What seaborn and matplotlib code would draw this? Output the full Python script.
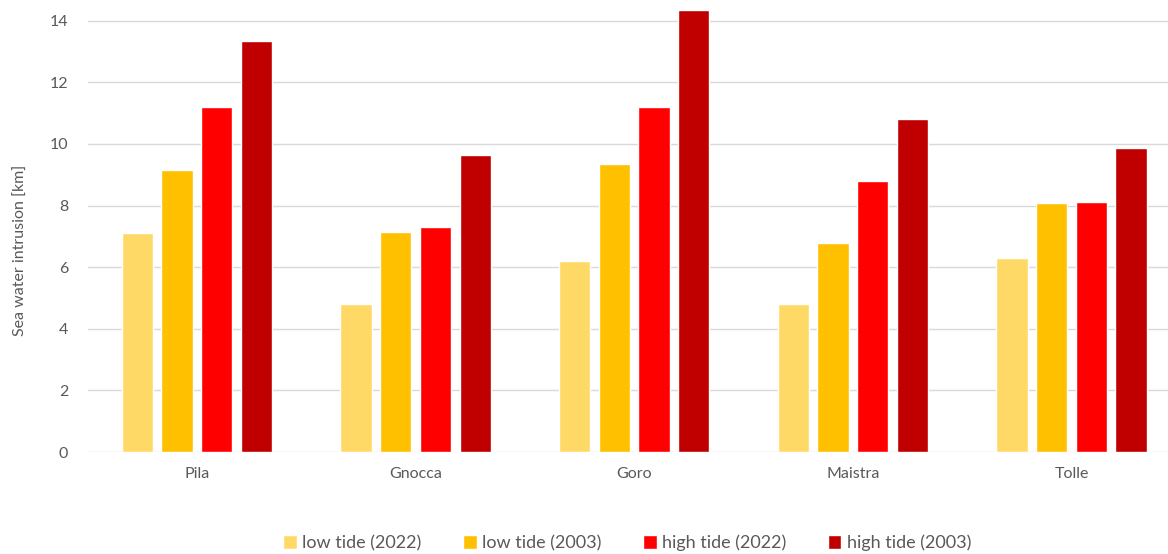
import matplotlib
matplotlib.use("Agg")
import matplotlib.pyplot as plt
import seaborn as sns
import pandas as pd

# Sea water intrusion by river branch, low/high tide in 2022 and 2003
branches = ["Pila", "Gnocca", "Goro", "Maistra", "Tolle"]
series = ["low tide (2022)", "low tide (2003)", "high tide (2022)", "high tide (2003)"]
low_2022 = [7.1, 4.8, 6.2, 4.8, 6.3]
low_2003 = [9.15, 7.15, 9.35, 6.8, 8.07]
high_2022 = [11.2, 7.3, 11.2, 8.8, 8.1]
high_2003 = [13.35, 9.65, 14.35, 10.8, 9.86]
colors = ["#FFD966", "#FFC000", "#FF0000", "#C00000"]

rows = []
for name, vals in zip(series, [low_2022, low_2003, high_2022, high_2003]):
    for b, v in zip(branches, vals):
        rows.append({"branch": b, "series": name, "value": v})
df = pd.DataFrame(rows)

sns.set_theme(style="white")
plt.rcParams["font.family"] = ["Lato", "DejaVu Sans"]

fig = plt.figure(figsize=(11.68, 5.54), dpi=100)
# plot area runs slightly past the right edge of the canvas
ax = fig.add_axes([0.075, 0.184, 0.936, 0.801])

sns.barplot(data=df, x="branch", y="value", hue="series", order=branches,
            hue_order=series, palette=colors, width=0.726, gap=0.214,
            saturation=1, legend=True, ax=ax)

ax.set_ylim(0, 14.4)
ax.set_yticks(range(0, 15, 2))
ax.yaxis.grid(True, color="#D9D9D9", linewidth=1.0)
ax.set_axisbelow(True)
for s in ax.spines.values():
    s.set_visible(False)
ax.tick_params(axis="both", length=0, colors="#595959", labelsize=11.5)
ax.tick_params(axis="x", pad=11)
ax.tick_params(axis="y", pad=14)
ax.set_xlabel("")
ax.set_ylabel("Sea water intrusion [km]", color="#595959", fontsize=11.5)
ax.yaxis.set_label_coords(-0.055, 0.455)

handles, labels = ax.get_legend_handles_labels()
ax.get_legend().remove()
fig.legend(handles, labels, loc="center", bbox_to_anchor=(0.537, 0.02), ncol=4,
           frameon=False, fontsize=13, handlelength=0.75, handleheight=0.75,
           handletextpad=0.3, columnspacing=2.3, labelcolor="#595959")

fig.savefig("out.png", dpi=100)
